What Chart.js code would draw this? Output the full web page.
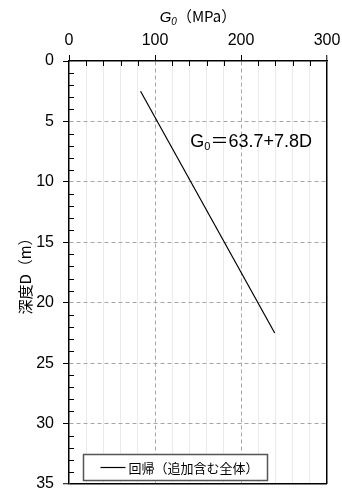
<!DOCTYPE html>
<html>
<head>
<meta charset="utf-8">
<script src="https://cdn.jsdelivr.net/npm/chart.js@4.4.0/dist/chart.umd.min.js"></script>
<style>
    html, body { margin: 0; padding: 0; background: #fff; overflow: hidden; }
    canvas { display: block; }
</style>
</head>
<body>
<canvas id="chart" width="342" height="489"></canvas>
<script>
// Data (regression line end points)
const depthValues = [2.5, 22.5];
const g0Values = [83.2, 239.2];
const seriesLabel = '回帰（追加含む全体）';
const equationText = ['G', '0', '＝63.7+7.8D'];
const xTitleText = ['G', '0', '（MPa）'];
const yTitleText = '深度D（m）';

// Axis ranges
const xRange = [0, 300];
const yRange = [0, 35];

const NUM_FONT = '"Liberation Sans", Arial, "Noto Sans CJK JP", sans-serif';
const JP_FONT = '"Noto Sans CJK JP", "Liberation Sans", sans-serif';

const isMajorX = v => v % 100 === 0;
const isMajorY = v => v % 5 === 0;

// Minor ticks point inward, major ticks outward
const innerTicks = {
    id: 'innerTicks',
    afterDatasetsDraw(chart) {
        const { ctx, chartArea, scales: { x, y } } = chart;
        ctx.save();
        ctx.strokeStyle = '#000';
        ctx.lineWidth = 1;
        ctx.beginPath();
        for (let v = xRange[0] + 20; v < xRange[1]; v += 20) {
            if (isMajorX(v)) continue;
            const px = Math.round(x.getPixelForValue(v)) + 0.5;
            ctx.moveTo(px, chartArea.top);
            ctx.lineTo(px, chartArea.top + 5);
        }
        for (let v = yRange[0] + 1; v < yRange[1]; v++) {
            if (isMajorY(v)) continue;
            const py = Math.round(y.getPixelForValue(v)) + 0.5;
            ctx.moveTo(chartArea.left, py);
            ctx.lineTo(chartArea.left + 5, py);
        }
        ctx.stroke();
        ctx.restore();
    }
};

// Axis titles, equation and boxed legend
const labelsPlugin = {
    id: 'labels',
    afterDraw(chart) {
        const { ctx, chartArea, scales: { x, y } } = chart;
        ctx.save();
        ctx.fillStyle = '#000';
        ctx.textBaseline = 'alphabetic';

        // x title: italic G with subscript 0
        const cx = (chartArea.left + chartArea.right) / 2;
        ctx.font = 'italic 15px ' + NUM_FONT;
        const wG = ctx.measureText(xTitleText[0]).width;
        ctx.font = 'italic 10px ' + NUM_FONT;
        const w0 = ctx.measureText(xTitleText[1]).width;
        ctx.font = '15px ' + JP_FONT;
        const wRest = ctx.measureText(xTitleText[2]).width;
        let tx = cx - (wG + w0 + wRest) / 2;
        const ty = 22;
        ctx.textAlign = 'left';
        ctx.font = 'italic 15px ' + NUM_FONT;
        ctx.fillText(xTitleText[0], tx, ty);
        tx += wG;
        ctx.font = 'italic 10px ' + NUM_FONT;
        ctx.fillText(xTitleText[1], tx, ty + 3);
        tx += w0;
        ctx.font = '15px ' + JP_FONT;
        ctx.fillText(xTitleText[2], tx, ty);

        // y title, rotated
        ctx.save();
        ctx.translate(25, (chartArea.top + chartArea.bottom) / 2);
        ctx.rotate(-Math.PI / 2);
        ctx.textAlign = 'center';
        ctx.textBaseline = 'middle';
        ctx.font = '15px ' + JP_FONT;
        ctx.fillText(yTitleText, 0, 0);
        ctx.restore();

        // regression equation
        let ex = x.getPixelForValue(141);
        const ey = y.getPixelForValue(7.1);
        ctx.textAlign = 'left';
        ctx.font = '18px ' + NUM_FONT;
        ctx.fillText(equationText[0], ex, ey);
        ex += ctx.measureText(equationText[0]).width;
        ctx.font = '11px ' + NUM_FONT;
        ctx.fillText(equationText[1], ex, ey + 3);
        ex += ctx.measureText(equationText[1]).width;
        ctx.font = '18px ' + NUM_FONT;
        ctx.fillText(equationText[2], ex, ey);

        // legend box
        const ds = chart.data.datasets[0];
        const bx = chartArea.left + 14.5, bw = 184, bh = 26;
        const by = chartArea.bottom - 3.5 - bh;
        ctx.fillStyle = '#fff';
        ctx.fillRect(bx, by, bw, bh);
        ctx.strokeStyle = '#555';
        ctx.lineWidth = 1.5;
        ctx.strokeRect(bx, by, bw, bh);
        ctx.strokeStyle = ds.borderColor;
        ctx.lineWidth = 1.2;
        ctx.beginPath();
        ctx.moveTo(bx + 17, by + bh / 2);
        ctx.lineTo(bx + 42, by + bh / 2);
        ctx.stroke();
        ctx.fillStyle = '#000';
        ctx.font = '13px ' + JP_FONT;
        ctx.textBaseline = 'middle';
        ctx.fillText(ds.label, bx + 45, by + bh / 2 + 1);
        ctx.restore();
    }
};

// keep the plot area fixed; end labels may run past the canvas edge
function fixSize(s, prop, size) {
    s[prop] = size;
    s.paddingTop = s.paddingBottom = s.paddingLeft = s.paddingRight = 0;
}

const ctx = document.getElementById('chart').getContext('2d');
new Chart(ctx, {
    type: 'scatter',
    data: {
        datasets: [{
            label: seriesLabel,
            data: g0Values.map((g, i) => ({ x: g, y: depthValues[i] })),
            showLine: true,
            borderColor: '#000',
            borderWidth: 1.2,
            pointRadius: 0,
            fill: false
        }]
    },
    options: {
        responsive: false,
        animation: false,
        layout: { padding: { left: 0, top: 0, right: 15, bottom: 5 } },
        plugins: {
            legend: { display: false },
            tooltip: { enabled: false }
        },
        scales: {
            x: {
                type: 'linear',
                position: 'top',
                min: xRange[0],
                max: xRange[1],
                afterFit: s => fixSize(s, 'height', 61),
                ticks: {
                    stepSize: 20,
                    autoSkip: false,
                    maxRotation: 0,
                    padding: 5,
                    color: '#000',
                    font: { family: NUM_FONT, size: 16 },
                    callback: v => isMajorX(v) ? v : ''
                },
                grid: {
                    color: c => {
                        const v = c.tick.value;
                        if (v === xRange[0]) return 'rgba(0,0,0,0)';
                        if (v === xRange[1]) return '#000';
                        return isMajorX(v) ? '#a6a6a6' : '#ebebeb';
                    },
                    lineWidth: c => c.tick.value === xRange[1] ? 1.5 : 1,
                    tickLength: 6,
                    tickWidth: 1,
                    tickColor: c => isMajorX(c.tick.value) ? '#000' : 'rgba(0,0,0,0)'
                },
                border: {
                    color: '#000',
                    width: 1.5,
                    dash: c => (c.tick && isMajorX(c.tick.value) && c.tick.value > xRange[0] && c.tick.value < xRange[1]) ? [4, 3] : []
                }
            },
            y: {
                type: 'linear',
                reverse: true,
                min: yRange[0],
                max: yRange[1],
                afterFit: s => fixSize(s, 'width', 69),
                ticks: {
                    stepSize: 1,
                    autoSkip: false,
                    padding: 9,
                    color: '#000',
                    font: { family: NUM_FONT, size: 16 },
                    callback: v => isMajorY(v) ? v : ''
                },
                grid: {
                    color: c => {
                        const v = c.tick.value;
                        if (v === yRange[1]) return '#000';
                        if (v === yRange[0]) return 'rgba(0,0,0,0)';
                        return isMajorY(v) ? '#a6a6a6' : 'rgba(0,0,0,0)';
                    },
                    lineWidth: c => c.tick.value === yRange[1] ? 1.5 : 1,
                    tickLength: 6,
                    tickWidth: 1,
                    tickColor: c => isMajorY(c.tick.value) ? '#000' : 'rgba(0,0,0,0)'
                },
                border: {
                    color: '#000',
                    width: 1.5,
                    dash: c => (c.tick && isMajorY(c.tick.value) && c.tick.value > yRange[0] && c.tick.value < yRange[1]) ? [4, 3] : []
                }
            }
        }
    },
    plugins: [innerTicks, labelsPlugin]
});
</script>
</body>
</html>
